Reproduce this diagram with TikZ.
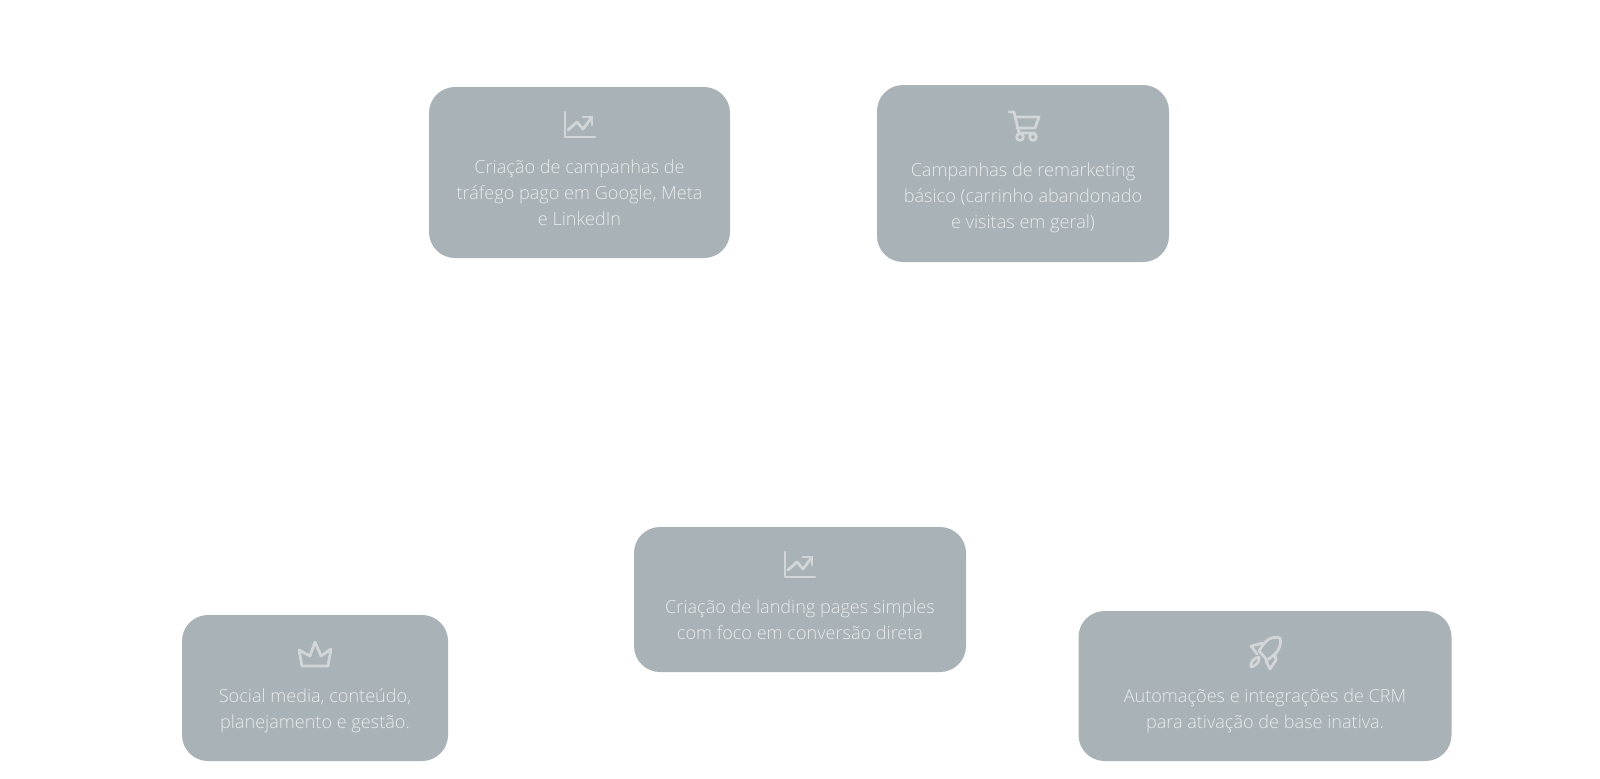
\documentclass[tikz,border=0pt]{standalone}
\usepackage{xcolor}
\usepackage{fontspec}
\setmainfont{Open Sans}[UprightFont=* Light]
\usepackage{tikz}
\definecolor{cardgray}{RGB}{169, 178, 182}
\definecolor{cardtext}{RGB}{232, 235, 236}
\definecolor{icongray}{RGB}{210, 214, 216}
\newcommand{\charticon}[2]{\begin{scope}[shift={(#1,#2)}]
    \draw[iconline] (1,0) -- (1,25) -- (31,25);
    \draw[iconline] (4,18) -- (13,10) -- (19,17) -- (28,5);
    \draw[iconline] (19,5) -- (28,5) -- (28,13);
\end{scope}}
\begin{document}
\begin{tikzpicture}[
    x=0.5pt,
    y=-0.5pt,
    card/.style={rectangle, rounded corners=13pt, fill=cardgray, inner sep=0pt},
    cardlabel/.style={font=\fontsize{9.05}{13}\selectfont, text=cardtext, align=center, inner sep=0pt},
    iconline/.style={draw=icongray, line width=1.4pt, line join=round, line cap=round}
]
\useasboundingbox (0,0) rectangle (1600,778);
\node[card, minimum width=150.5pt, minimum height=85.5pt] (trafego) at (579.5,172.5) {};
\node[card, minimum width=146pt, minimum height=88.5pt] (remarketing) at (1023,173.5) {};
\node[card, minimum width=133pt, minimum height=73pt] (social) at (315,688) {};
\node[card, minimum width=166pt, minimum height=72.5pt] (landing) at (800,599.5) {};
\node[card, minimum width=186.5pt, minimum height=75pt] (automacao) at (1265,686) {};
\node[cardlabel] (trafegotxt) at (579.5,193) {Criação de campanhas de\\tráfego pago em Google, Meta\\e LinkedIn};
\node[cardlabel] (remarketingtxt) at (1023,198) {Campanhas de remarketing\\básico (carrinho abandonado\\e visitas em geral)};
\node[cardlabel] (socialtxt) at (315,710.5) {Social media, conteúdo,\\planejamento e gestão.};
\node[cardlabel] (landingtxt) at (800,620) {Criação de landing pages simples\\com foco em conversão direta};
\node[cardlabel] (automacaotxt) at (1265,710.5) {Automações e integrações de CRM\\para ativação de base inativa.};
\charticon{564}{112}
\charticon{784}{552}
\begin{scope}[shift={(1008,110)}]
    \draw[iconline] (1,2) -- (6,2) -- (11,23) -- (27,23);
    \draw[iconline] (7,7) -- (31,7) -- (27,18) -- (9,18);
    \draw[iconline] (12,27) circle (1.7pt);
    \draw[iconline] (25,27) circle (1.7pt);
\end{scope}
\begin{scope}[shift={(298,641)}]
    \draw[iconline] (4,25) -- (1,9) -- (12,15) -- (17,1) -- (23,15) -- (33,8) -- (30,25) -- cycle;
\end{scope}
\begin{scope}[shift={(1240,630)}]
    \draw[iconline] (40,8) .. controls (31,6) and (26,9) .. (19,21) -- (27,30) .. controls (37,24) and (42,17) .. (40,8) -- cycle;
    \draw[iconline] (23,13) -- (11,16) -- (17,24);
    \draw[iconline] (35,25) -- (36,30) -- (30,39) -- (26,31);
    \draw[iconline] (11,37) .. controls (10,32) and (14,28) .. (19,27) .. controls (20,32) and (16,36) .. (11,37) -- cycle;
\end{scope}
\end{tikzpicture}
\end{document}
